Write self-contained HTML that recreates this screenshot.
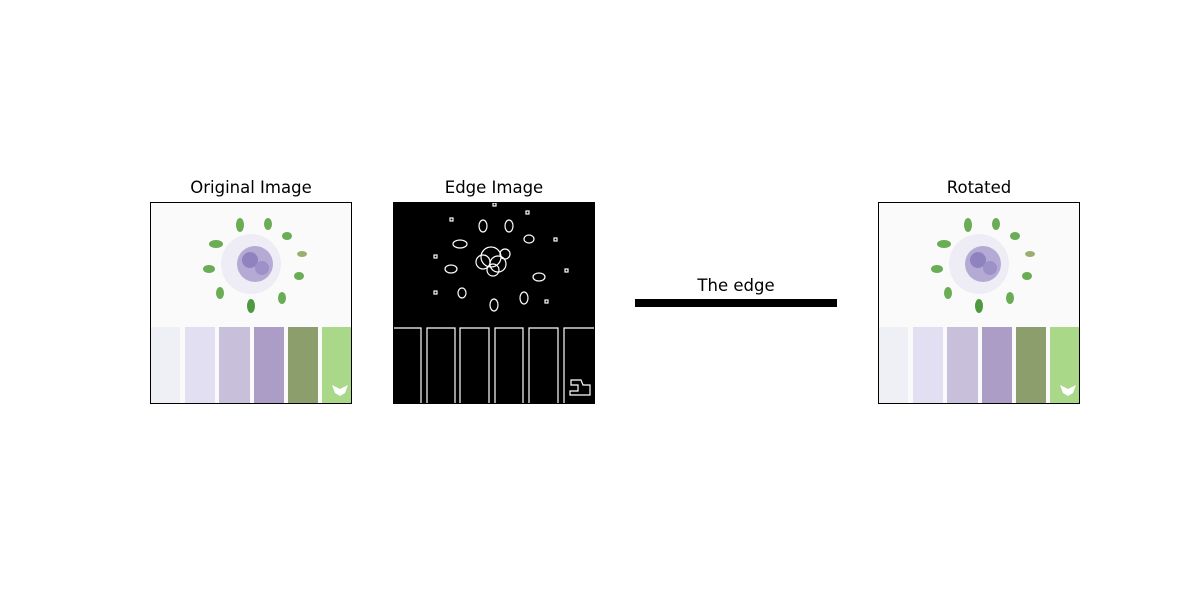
<!DOCTYPE html>
<html><head><meta charset="utf-8"><style>
body{margin:0;background:#fff;}
svg{display:block;}
text{font-family:"DejaVu Sans","Liberation Sans",sans-serif;font-size:16.5px;fill:#000;}
</style></head><body>
<svg width="1200" height="600" viewBox="0 0 1200 600">
<defs>
<g id="orig">
<rect x="0" y="0" width="202" height="202" fill="#fafafa"/>
<circle cx="101" cy="62" r="30" fill="#eeedf5"/>
<circle cx="105" cy="62" r="18" fill="#b4aad4"/>
<circle cx="100" cy="58" r="8" fill="#8e82bf"/>
<circle cx="112" cy="66" r="7" fill="#9d92c8"/>
<g fill="#6aad55">
<ellipse cx="90" cy="23" rx="4" ry="7"/>
<ellipse cx="118" cy="22" rx="4" ry="6"/>
<ellipse cx="137" cy="34" rx="5" ry="4"/>
<ellipse cx="66" cy="42" rx="7" ry="4"/>
<ellipse cx="152" cy="52" rx="5" ry="3" fill="#9aae70"/>
<ellipse cx="59" cy="67" rx="6" ry="4"/>
<ellipse cx="149" cy="74" rx="5" ry="4"/>
<ellipse cx="70" cy="91" rx="4" ry="6"/>
<ellipse cx="132" cy="96" rx="4" ry="6"/>
<ellipse cx="101" cy="104" rx="4" ry="7" fill="#4f9a40"/>
</g>
<rect x="0" y="125" width="30" height="77" fill="#eff0f5"/>
<rect x="35" y="125" width="30" height="77" fill="#e2dff3"/>
<rect x="69" y="125" width="31" height="77" fill="#c8bfdb"/>
<rect x="104" y="125" width="30" height="77" fill="#ab9dc6"/>
<rect x="138" y="125" width="30" height="77" fill="#8c9e6c"/>
<rect x="172" y="125" width="30" height="77" fill="#a9d888"/>
<path d="M182 183 l8 4 l8 -4 l-3 8 l-5 3 l-5 -3z" fill="#fff"/>
<rect x="0.5" y="0.5" width="201" height="201" fill="none" stroke="#000"/>
</g>
</defs>
<text x="251" y="193" text-anchor="middle">Original Image</text>
<use href="#orig" x="150" y="202"/>
<text x="494" y="193" text-anchor="middle">Edge Image</text>
<g transform="translate(393,202)">
<rect x="0" y="0" width="202" height="202" fill="#000"/>
<g fill="none" stroke="#fff" stroke-width="1.2">
<circle cx="98" cy="55" r="10"/><circle cx="90" cy="60" r="7"/><circle cx="105" cy="62" r="8"/><circle cx="100" cy="68" r="6"/><circle cx="112" cy="52" r="5"/>
<ellipse cx="90" cy="24" rx="4" ry="6"/><ellipse cx="116" cy="24" rx="4" ry="6"/><ellipse cx="136" cy="37" rx="5" ry="4"/>
<ellipse cx="67" cy="42" rx="7" ry="4"/><ellipse cx="58" cy="67" rx="6" ry="4"/><ellipse cx="146" cy="75" rx="6" ry="4"/>
<ellipse cx="69" cy="91" rx="4" ry="5"/><ellipse cx="131" cy="96" rx="4" ry="6"/><ellipse cx="101" cy="103" rx="4" ry="6"/>
<rect x="57" y="16" width="3" height="3"/><rect x="133" y="9" width="3" height="3"/><rect x="100" y="1" width="3" height="3"/>
<rect x="161" y="36" width="3" height="3"/><rect x="41" y="53" width="3" height="3"/><rect x="172" y="67" width="3" height="3"/>
<rect x="152" y="98" width="3" height="3"/><rect x="41" y="89" width="3" height="3"/>
<path d="M0.5 126 H28 V202 M34 202 V126 H62 V202 M67 202 V126 H96 V202 M102 202 V126 H130 V202 M136 202 V126 H165 V202 M171 202 V126 H202"/>
<path d="M178 178 h10 l2 5 h7 v10 h-20 v-4 h8 v-6 h-7z"/>
</g>
<rect x="0.5" y="0.5" width="201" height="201" fill="none" stroke="#000"/>
</g>
<text x="736" y="291" text-anchor="middle">The edge</text>
<rect x="635" y="299" width="202" height="8" fill="#000"/>
<text x="979" y="193" text-anchor="middle">Rotated</text>
<use href="#orig" x="878" y="202"/>
</svg>
</body></html>
